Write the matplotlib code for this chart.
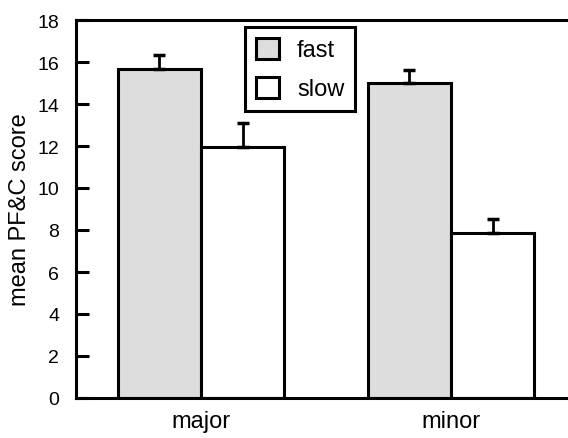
import numpy as np
import matplotlib.pyplot as plt

plt.rcParams['font.family'] = ['Liberation Sans', 'DejaVu Sans']

groups = ['major', 'minor']
fast = [15.67, 15.0]
fast_err = [0.65, 0.6]
slow = [11.95, 7.86]
slow_err = [1.15, 0.65]

fig = plt.figure(figsize=(5.68, 4.39), dpi=100)
ax = fig.add_axes([76 / 568, 40 / 439, 500 / 568, 378 / 439])

x = np.arange(len(groups))
w = 1 / 3
ekw = dict(elinewidth=2, capthick=2.5, capsize=4.5, ecolor='black')
ax.bar(x - w / 2, fast, w, color='#dddddd', edgecolor='black', linewidth=2.2,
       label='fast', yerr=[np.zeros(2), fast_err], error_kw=ekw, zorder=2)
ax.bar(x + w / 2, slow, w, color='white', edgecolor='black', linewidth=2.2,
       label='slow', yerr=[np.zeros(2), slow_err], error_kw=ekw, zorder=2)

ax.set_xlim(-0.5, 1.5)
ax.set_ylim(0, 18)
ax.set_yticks(range(0, 19, 2))
ax.set_xticks(x)
ax.set_xticklabels(groups)
ax.tick_params(axis='y', direction='in', length=9, width=2.2, pad=12, labelsize=14)
ax.tick_params(axis='x', length=0, pad=9, labelsize=17)
for s in ax.spines.values():
    s.set_linewidth(2.2)
ax.set_ylabel('mean PF&C score', fontsize=17, labelpad=5)

leg = ax.legend(loc='upper left', bbox_to_anchor=(0.338, 0.981), borderaxespad=0,
                fontsize=17, handlelength=1.0, handleheight=1.0, handletextpad=0.75,
                labelspacing=0.65, borderpad=0.45, fancybox=False, framealpha=1,
                edgecolor='black')
leg.get_frame().set_linewidth(2.2)

fig.savefig('out.png', dpi=100)
